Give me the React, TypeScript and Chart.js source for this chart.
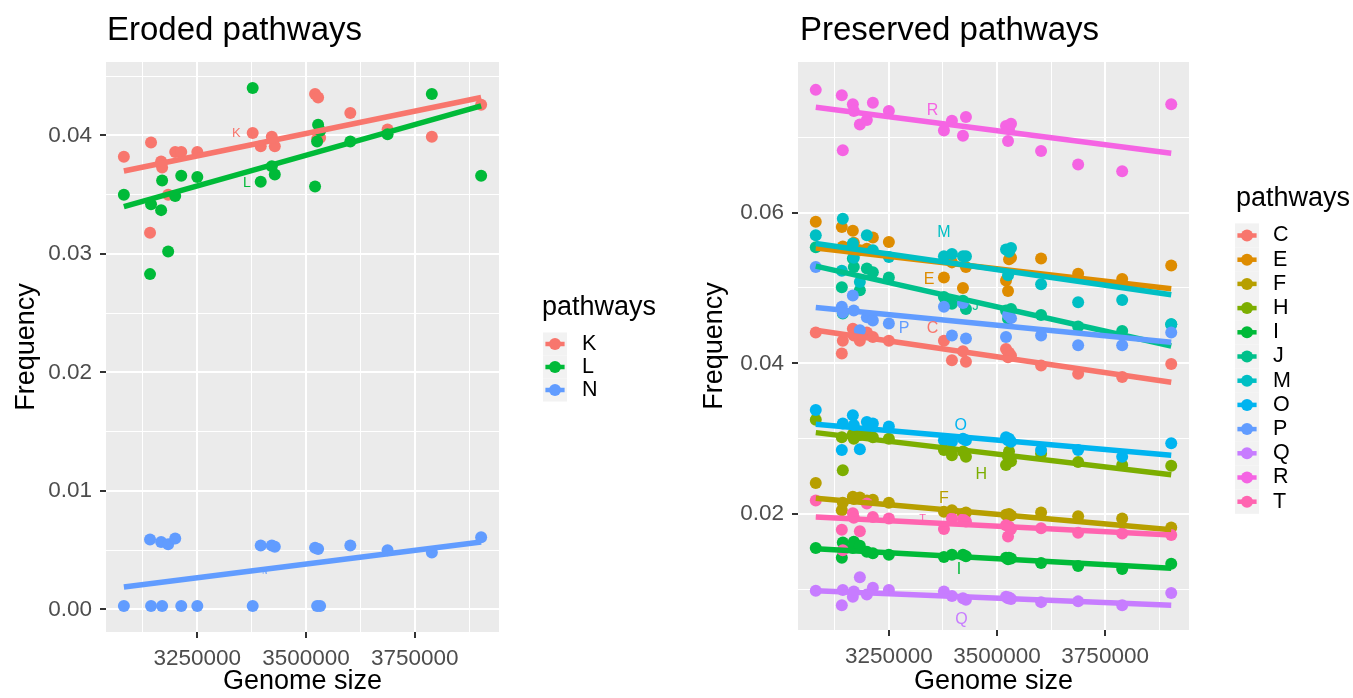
import React, { useEffect, useRef } from "react";
import { Chart, registerables } from "chart.js";

Chart.register(...registerables);

const FONT = '"Liberation Sans", Arial, Helvetica, sans-serif';

// Genome sizes (x values shared by every pathway)
const genomeSizes = [
  3081000, 3141200, 3143500, 3166700, 3169000, 3182900, 3199100, 3213000, 3250000, 3377300, 3395800,
  3421300, 3428200, 3520800, 3525500, 3527800, 3532400, 3601900, 3687600, 3789400, 3902800,
];

// Eroded pathways
const kFreq = [0.0382, 0.0318, 0.0394, 0.0378, 0.0373, 0.035, 0.0386, 0.0386, 0.0386, 0.0402, 0.0391, 0.0399, 0.0391, 0.0435, 0.0397, 0.0432, 0.0398, 0.0419, 0.0405, 0.0399, 0.0426];
const lFreq = [0.035, 0.0283, 0.0342, 0.0337, 0.0362, 0.0302, 0.0349, 0.0366, 0.0365, 0.044, 0.0361, 0.0374, 0.0367, 0.0357, 0.0395, 0.0409, 0.0404, 0.0395, 0.0401, 0.0435, 0.0366];
const nFreq = [0.0003, 0.0059, 0.0003, 0.0057, 0.0003, 0.0055, 0.006, 0.0003, 0.0003, 0.0003, 0.0054, 0.0054, 0.0053, 0.0052, 0.0003, 0.0051, 0.0003, 0.0054, 0.005, 0.0048, 0.0061];

// Preserved pathways
const cFreq = [0.0441, 0.0413, 0.043, 0.0446, 0.0437, 0.043, 0.0441, 0.0435, 0.043, 0.043, 0.0404, 0.0416, 0.0402, 0.0419, 0.0408, 0.0414, 0.041, 0.0397, 0.0386, 0.0382, 0.0399];
const eFreq = [0.0588, 0.0581, 0.0555, 0.0576, 0.056, 0.055, 0.0552, 0.0567, 0.0561, 0.0514, 0.0534, 0.05, 0.0528, 0.051, 0.0496, 0.0538, 0.054, 0.0539, 0.0519, 0.0512, 0.053];
const fFreq = [0.0241, 0.0205, 0.0215, 0.0223, 0.022, 0.0222, 0.0218, 0.0219, 0.0215, 0.0203, 0.0205, 0.02, 0.0202, 0.0199, 0.0197, 0.02, 0.0198, 0.0202, 0.0197, 0.0194, 0.0182];
const hFreq = [0.0325, 0.0302, 0.0258, 0.0306, 0.03, 0.0305, 0.0305, 0.0302, 0.03, 0.0285, 0.0278, 0.0283, 0.0276, 0.0265, 0.0276, 0.0283, 0.027, 0.028, 0.0269, 0.0265, 0.0264];
const iFreq = [0.0155, 0.0142, 0.0162, 0.0155, 0.0163, 0.0158, 0.015, 0.0148, 0.0146, 0.0143, 0.0146, 0.0146, 0.0144, 0.0142, 0.014, 0.0142, 0.0141, 0.0135, 0.0131, 0.0127, 0.0134];
const jFreq = [0.0554, 0.0501, 0.0466, 0.0539, 0.0528, 0.0497, 0.0526, 0.0521, 0.0514, 0.0488, 0.0479, 0.0483, 0.0472, 0.047, 0.0459, 0.0468, 0.0472, 0.0464, 0.0449, 0.0443, 0.0452];
const mFreq = [0.057, 0.0523, 0.0592, 0.0559, 0.054, 0.0508, 0.057, 0.055, 0.0541, 0.0542, 0.0545, 0.0542, 0.0542, 0.0551, 0.0517, 0.0548, 0.0553, 0.0505, 0.0481, 0.0484, 0.0452];
const oFreq = [0.0338, 0.0285, 0.032, 0.0331, 0.0318, 0.0286, 0.0322, 0.032, 0.0316, 0.0298, 0.0296, 0.03, 0.0298, 0.0302, 0.0298, 0.03, 0.0296, 0.0285, 0.0285, 0.0276, 0.0294];
const pFreq = [0.0528, 0.0475, 0.0467, 0.049, 0.047, 0.0444, 0.0461, 0.0457, 0.0453, 0.0475, 0.0437, 0.048, 0.0433, 0.0435, 0.0464, 0.0466, 0.046, 0.0437, 0.0424, 0.0424, 0.0441];
const qFreq = [0.0098, 0.0079, 0.0099, 0.009, 0.0097, 0.0116, 0.0093, 0.0102, 0.0099, 0.0097, 0.0091, 0.0088, 0.0086, 0.009, 0.0088, 0.0089, 0.0087, 0.0083, 0.0084, 0.0079, 0.0095];
const rFreq = [0.0763, 0.0756, 0.0683, 0.0744, 0.0735, 0.0717, 0.0723, 0.0746, 0.0735, 0.0709, 0.0722, 0.0702, 0.0727, 0.0715, 0.0695, 0.0711, 0.0718, 0.0682, 0.0664, 0.0655, 0.0744];
const tFreq = [0.0218, 0.0179, 0.0152, 0.0201, 0.0195, 0.0177, 0.0214, 0.0196, 0.0194, 0.018, 0.0194, 0.0193, 0.019, 0.0185, 0.017, 0.0183, 0.018, 0.0181, 0.0175, 0.0174, 0.0172];

// Left panel meta
const leftNames = ["K", "L", "N"];
const leftColors = ["#F8766D", "#00BA38", "#619CFF"];
const leftFitStart = [0.037, 0.034, 0.0019];
const leftFitEnd = [0.0432, 0.0425, 0.0057];
const leftLabelX = [3339700, 3364000, 3405000];
const leftLabelY = [0.0402, 0.036, 0.00315];
const leftLabelSize = [13, 14, 7];

// Right panel meta
const rightNames = ["C", "E", "F", "H", "I", "J", "M", "O", "P", "Q", "R", "T"];
const rightColors = ["#F8766D", "#DE8C00", "#B79F00", "#7CAE00", "#00BA38", "#00C08B", "#00BFC4", "#00B4F0", "#619CFF", "#C77CFF", "#F564E3", "#FF64B0"];
const rightFitStart = [0.0444, 0.0553, 0.0221, 0.0308, 0.0154, 0.0529, 0.0559, 0.0319, 0.0474, 0.0098, 0.074, 0.0196];
const rightFitEnd = [0.0375, 0.0499, 0.0179, 0.0252, 0.0128, 0.0423, 0.0491, 0.0278, 0.0428, 0.0079, 0.0679, 0.0172];
const rightLabelX = [3350700, 3342900, 3377400, 3463600, 3412000, 3450400, 3377400, 3415900, 3285300, 3417600, 3350700, 3327800];
const rightLabelY = [0.0446, 0.0511, 0.0221, 0.0252, 0.0126, 0.0475, 0.0574, 0.0318, 0.0446, 0.006, 0.0736, 0.0194];
const rightLabelSize = [16, 16, 16, 16, 16, 13, 16, 16, 16, 16, 16, 11];

// Axis ticks
const xMajorTicks = [3250000, 3500000, 3750000];
const xMinorTicks = [3125000, 3375000, 3625000, 3875000];
const leftYMajorTicks = [0, 0.01, 0.02, 0.03, 0.04];
const leftYMinorTicks = [0.005, 0.015, 0.025, 0.035, 0.045];
const rightYMajorTicks = [0.02, 0.04, 0.06];
const rightYMinorTicks = [0.01, 0.03, 0.05, 0.07];

type Spec = {
  title: string;
  names: string[];
  colors: string[];
  freqs: number[][];
  fitStart: number[];
  fitEnd: number[];
  labelX: number[];
  labelY: number[];
  labelSize: number[];
  yMajor: number[];
  yMinor: number[];
  yMin: number;
  yMax: number;
  padRight: number;
  yAxisWidth: number;
  xAxisHeight: number;
  yTitlePad: number;
  legendTitleX: number;
  legendTitleBaseline: number;
  legendKeyX: number;
  legendTextX: number;
  legendFirstY: number;
  legendStep: number;
  titleOffset: number;
};

const X_MIN = 3039910;
const X_MAX = 3943890;

const leftSpec: Spec = {
  title: "Eroded pathways",
  names: leftNames,
  colors: leftColors,
  freqs: [kFreq, lFreq, nFreq],
  fitStart: leftFitStart,
  fitEnd: leftFitEnd,
  labelX: leftLabelX,
  labelY: leftLabelY,
  labelSize: leftLabelSize,
  yMajor: leftYMajorTicks,
  yMinor: leftYMinorTicks,
  yMin: -0.0019,
  yMax: 0.0462,
  padRight: 181,
  yAxisWidth: 106,
  xAxisHeight: 66,
  yTitlePad: 13.5,
  legendTitleX: 542,
  legendTitleBaseline: 315,
  legendKeyX: 543,
  legendTextX: 582,
  legendFirstY: 344,
  legendStep: 23,
  titleOffset: 1,
};

const rightSpec: Spec = {
  title: "Preserved pathways",
  names: rightNames,
  colors: rightColors,
  freqs: [cFreq, eFreq, fFreq, hFreq, iFreq, jFreq, mFreq, oFreq, pFreq, qFreq, rFreq, tFreq],
  fitStart: rightFitStart,
  fitEnd: rightFitEnd,
  labelX: rightLabelX,
  labelY: rightLabelY,
  labelSize: rightLabelSize,
  yMajor: rightYMajorTicks,
  yMinor: rightYMinorTicks,
  yMin: 0.0046,
  yMax: 0.08,
  padRight: 164,
  yAxisWidth: 118,
  xAxisHeight: 68,
  yTitlePad: 21.5,
  legendTitleX: 556,
  legendTitleBaseline: 206,
  legendKeyX: 555,
  legendTextX: 593,
  legendFirstY: 235.5,
  legendStep: 24.2,
  titleOffset: 2,
};

function makeChart(canvas: HTMLCanvasElement, spec: Spec) {
  const datasets: any[] = [];
  spec.names.forEach((name, i) => {
    datasets.push({
      type: "scatter",
      label: name,
      data: genomeSizes.map((g, j) => ({ x: g, y: spec.freqs[i][j] })),
      backgroundColor: spec.colors[i],
      borderColor: spec.colors[i],
      borderWidth: 0,
      pointRadius: 6,
      pointHoverRadius: 6,
      order: 1000 - i,
    });
  });
  spec.names.forEach((name, i) => {
    datasets.push({
      type: "line",
      label: name + " fit",
      data: [
        { x: genomeSizes[0], y: spec.fitStart[i] },
        { x: genomeSizes[genomeSizes.length - 1], y: spec.fitEnd[i] },
      ],
      borderColor: spec.colors[i],
      backgroundColor: spec.colors[i],
      borderWidth: 5.5,
      pointRadius: 0,
      fill: false,
      tension: 0,
      order: 500 - i,
    });
  });

  const xAll = [...xMinorTicks, ...xMajorTicks].sort((a, b) => a - b);
  const yAll = [...spec.yMinor, ...spec.yMajor].sort((a, b) => a - b);

  const decor = {
    id: "decor",
    beforeDraw(chart: any) {
      const { ctx, chartArea: a } = chart;
      ctx.save();
      ctx.fillStyle = "#FFFFFF";
      ctx.fillRect(0, 0, chart.width, chart.height);
      ctx.fillStyle = "#EBEBEB";
      ctx.fillRect(a.left, a.top, a.right - a.left, a.bottom - a.top);
      ctx.restore();
    },
    afterDatasetsDraw(chart: any) {
      const { ctx } = chart;
      const xs = chart.scales.x;
      const ys = chart.scales.y;
      ctx.save();
      ctx.textAlign = "center";
      ctx.textBaseline = "middle";
      spec.names.forEach((name, i) => {
        ctx.font = `${spec.labelSize[i]}px ${FONT}`;
        ctx.fillStyle = spec.colors[i];
        ctx.fillText(name, xs.getPixelForValue(spec.labelX[i]), ys.getPixelForValue(spec.labelY[i]));
      });
      ctx.restore();
    },
    afterDraw(chart: any) {
      const { ctx, chartArea: a } = chart;
      ctx.save();
      // plot title
      ctx.fillStyle = "#000000";
      ctx.font = `33px ${FONT}`;
      ctx.textAlign = "left";
      ctx.textBaseline = "alphabetic";
      ctx.fillText(spec.title, a.left + spec.titleOffset, 40);
      // legend
      ctx.font = `27px ${FONT}`;
      ctx.fillText("pathways", spec.legendTitleX, spec.legendTitleBaseline);
      const step = spec.legendStep;
      spec.names.forEach((name, i) => {
        const cy = spec.legendFirstY + i * step;
        const kx = spec.legendKeyX;
        ctx.fillStyle = "#F2F2F2";
        ctx.fillRect(kx, cy - step / 2, 24, step);
        ctx.strokeStyle = spec.colors[i];
        ctx.lineWidth = 4.5;
        ctx.beginPath();
        ctx.moveTo(kx + 2.4, cy);
        ctx.lineTo(kx + 21.6, cy);
        ctx.stroke();
        ctx.fillStyle = spec.colors[i];
        ctx.beginPath();
        ctx.arc(kx + 12, cy, 6, 0, Math.PI * 2);
        ctx.fill();
        ctx.fillStyle = "#000000";
        ctx.font = `21.5px ${FONT}`;
        ctx.textBaseline = "middle";
        ctx.fillText(name, spec.legendTextX, cy);
        ctx.textBaseline = "alphabetic";
      });
      ctx.restore();
    },
  };

  return new Chart(canvas, {
    type: "scatter",
    data: { datasets },
    plugins: [decor],
    options: {
      animation: false,
      responsive: true,
      maintainAspectRatio: false,
      events: [],
      layout: { padding: { top: 62, right: spec.padRight, left: 0, bottom: 0 } },
      plugins: {
        legend: { display: false },
        title: { display: false },
        tooltip: { enabled: false },
      },
      scales: {
        x: {
          type: "linear",
          min: X_MIN,
          max: X_MAX,
          bounds: "data",
          afterBuildTicks: (s: any) => {
            s.ticks = xAll.map((v) => ({ value: v }));
          },
          afterFit: (s: any) => {
            s.height = spec.xAxisHeight;
          },
          ticks: {
            autoSkip: false,
            maxRotation: 0,
            minRotation: 0,
            padding: 7,
            color: "#4D4D4D",
            font: { family: FONT, size: 22.5 },
            callback: (v: any) => (xMajorTicks.includes(v) ? String(v) : ""),
          },
          grid: {
            color: "#FFFFFF",
            lineWidth: (c: any) => (c.tick && xMajorTicks.includes(c.tick.value) ? 2 : 1),
            drawTicks: true,
            tickLength: 6,
            tickWidth: 2,
            tickColor: (c: any) => (c.tick && xMajorTicks.includes(c.tick.value) ? "#333333" : "rgba(0,0,0,0)"),
          },
          border: { display: false },
          title: {
            display: true,
            text: "Genome size",
            color: "#000000",
            font: { family: FONT, size: 27, lineHeight: 1 },
            padding: { top: 0, bottom: 3 },
          },
        },
        y: {
          type: "linear",
          min: spec.yMin,
          max: spec.yMax,
          bounds: "data",
          afterBuildTicks: (s: any) => {
            s.ticks = yAll.map((v) => ({ value: v }));
          },
          afterFit: (s: any) => {
            s.width = spec.yAxisWidth;
          },
          ticks: {
            autoSkip: false,
            padding: 8,
            color: "#4D4D4D",
            font: { family: FONT, size: 22.5 },
            callback: (v: any) => (spec.yMajor.includes(v) ? Number(v).toFixed(2) : ""),
          },
          grid: {
            color: "#FFFFFF",
            lineWidth: (c: any) => (c.tick && spec.yMajor.includes(c.tick.value) ? 2 : 1),
            drawTicks: true,
            tickLength: 6,
            tickWidth: 2,
            tickColor: (c: any) => (c.tick && spec.yMajor.includes(c.tick.value) ? "#333333" : "rgba(0,0,0,0)"),
          },
          border: { display: false },
          title: {
            display: true,
            text: "Frequency",
            color: "#000000",
            font: { family: FONT, size: 27, lineHeight: 1 },
            padding: { top: spec.yTitlePad, bottom: 0 },
          },
        },
      },
    } as any,
  });
}

export default function App() {
  const leftRef = useRef<HTMLCanvasElement>(null);
  const rightRef = useRef<HTMLCanvasElement>(null);

  useEffect(() => {
    const c1 = makeChart(leftRef.current as HTMLCanvasElement, leftSpec);
    const c2 = makeChart(rightRef.current as HTMLCanvasElement, rightSpec);
    return () => {
      c1.destroy();
      c2.destroy();
    };
  }, []);

  return (
    <div style={{ position: "absolute", left: 0, top: 0, width: 1353, height: 698, background: "#FFFFFF" }}>
      <div style={{ position: "absolute", left: 0, top: 0, width: 680, height: 698 }}>
        <canvas ref={leftRef} />
      </div>
      <div style={{ position: "absolute", left: 680, top: 0, width: 673, height: 698 }}>
        <canvas ref={rightRef} />
      </div>
    </div>
  );
}
